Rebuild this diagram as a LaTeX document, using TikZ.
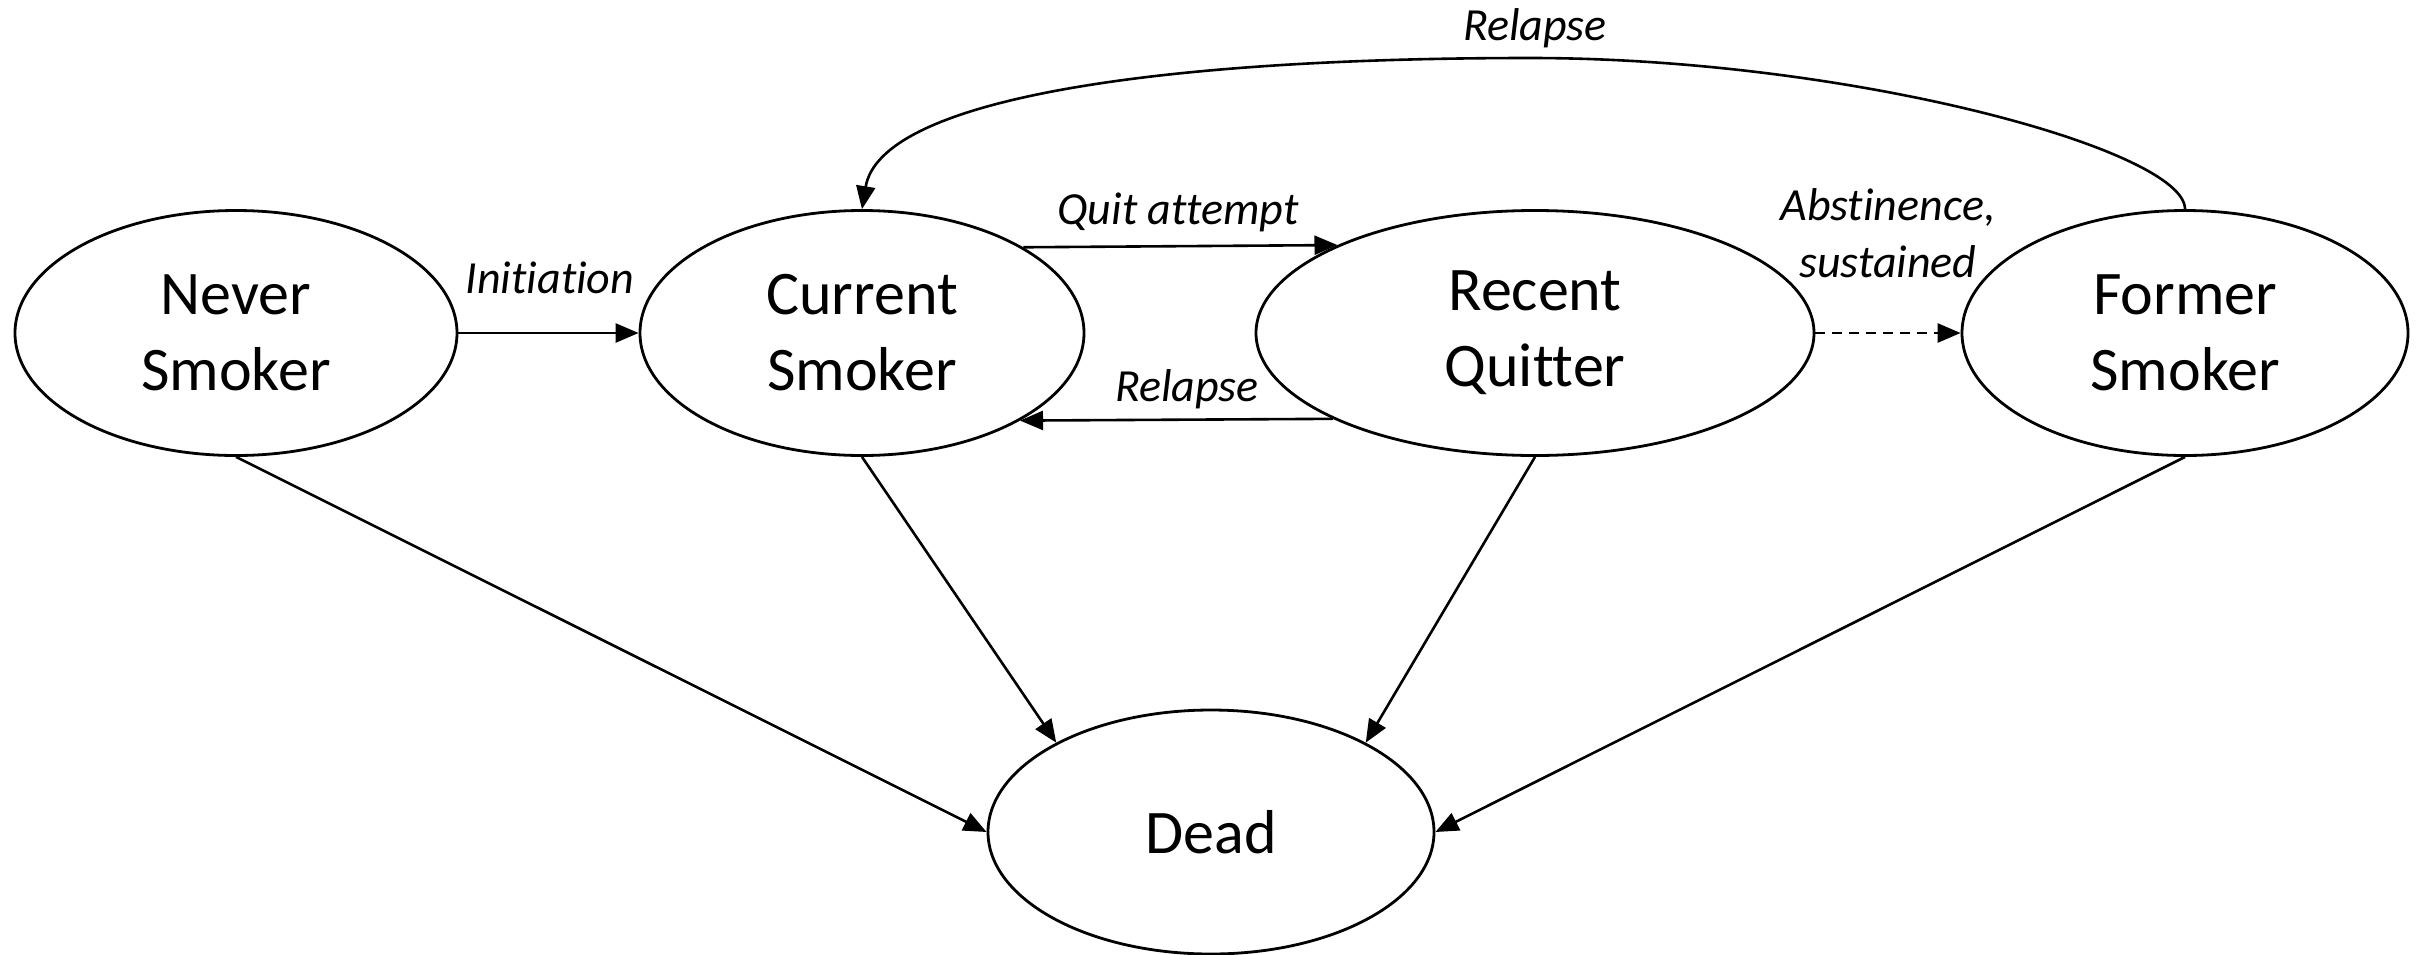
\documentclass[tikz,border=0pt]{standalone}
\usepackage{fontspec}
\setmainfont{Carlito}[Ligatures=NoCommon]
\usetikzlibrary{arrows.meta,shapes.geometric}
\tikzset{
  state/.style={draw, ellipse, line width=2.8pt, inner sep=0pt, align=center,
    font=\fontsize{62}{76}\selectfont, minimum height=245pt},
  arr/.style={line width=2.6pt, -{Triangle[length=23pt,width=19pt]}},
  lbl/.style={font=\fontsize{46}{57}\selectfont\itshape, align=center, inner sep=0pt, anchor=base}
}
\begin{document}
\begin{tikzpicture}[x=1pt,y=-1pt]
\useasboundingbox (0,0) rectangle (2417,954);
\node[state, minimum width=442pt] (never) at (236,333) {Never\\Smoker};
\node[state, minimum width=444pt] (cur) at (862,333) {Current\\Smoker};
\node[state, minimum width=558pt] (rec) at (1535,333) {Recent\\Quitter};
\node[state, minimum width=446pt] (form) at (2185,333) {Former\\Smoker};
\node[state, minimum width=446pt, minimum height=244pt] (dead) at (1211,832) {Dead};
\coordinate (peak) at (1530,58);

\draw[arr] (never.east) -- (cur.west);
\draw[arr] (cur.28.6) -- (rec.156.6);
\draw[arr] (rec.203.4) -- (cur.331.4);
\draw[arr, dash pattern=on 10pt off 7pt] (rec.east) -- (form.west);
\draw[arr] (form.north) .. controls (2185,150) and (1850,58) .. (peak)
  .. controls (1150,58) and (880,100) .. (cur.north);

\draw[arr] (never.south) -- (dead.west);
\draw[arr] (cur.south) -- (dead.150);
\draw[arr] (rec.south) -- (dead.30);
\draw[arr] (form.south) -- (dead.east);

\node[lbl] (linit) at (550,293) {Initiation};
\node[lbl] (lquit) at (1178,224) {Quit attempt};
\node[lbl] (lrel1) at (1187,401) {Relapse};
\node[lbl] (labs) at (1888,277) {Abstinence,\\sustained};
\node[lbl] (lrel2) at (1535,40) {Relapse};
\end{tikzpicture}
\end{document}
